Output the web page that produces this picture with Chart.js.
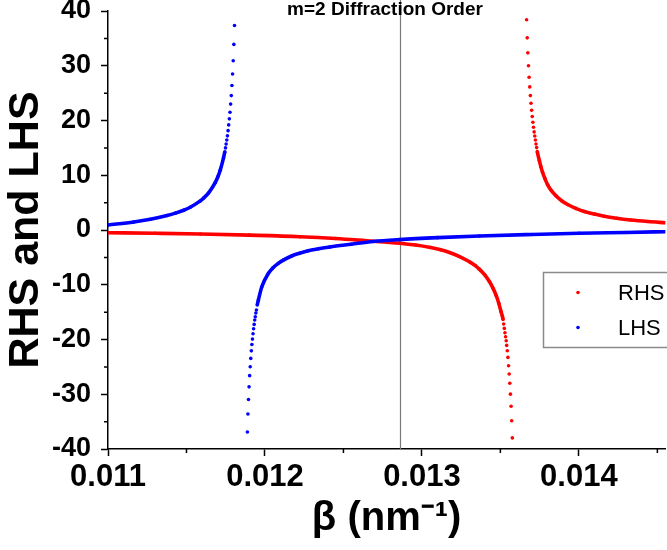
<!DOCTYPE html>
<html>
<head>
<meta charset="utf-8">
<script src="https://cdn.jsdelivr.net/npm/chart.js@4.4.1/dist/chart.umd.min.js"></script>
<style>
    html, body { margin: 0; padding: 0; background: #fff; }
    #wrap { width: 667px; height: 550px; }
</style>
</head>
<body>
<div id="wrap"><canvas id="chart"></canvas></div>
<script>
// right hand side of the m=2 dispersion equation, sampled in beta (nm^-1)
const rhsBeta = [
    0.011000, 0.011300, 0.011588, 0.011900, 0.012223, 0.012450, 0.012647, 0.012858, 0.012960, 0.013055,
    0.013120, 0.013176, 0.013240, 0.013303, 0.013340, 0.013367, 0.013400, 0.013430, 0.013455, 0.013473, 0.013490, 0.013504,
    0.013517, 0.013521, 0.013525, 0.013529, 0.013533, 0.013537, 0.013540, 0.013544,
    0.013548, 0.013552, 0.013556, 0.013560, 0.013564, 0.013568, 0.013572, 0.013576,
    0.013667, 0.013671, 0.013675, 0.013679, 0.013683, 0.013687, 0.013691, 0.013695, 0.013699,
    0.013703, 0.013707, 0.013711, 0.013715, 0.013719, 0.013723, 0.013727, 0.013731, 0.013735,
    0.013748, 0.013758, 0.013769, 0.013785, 0.013801, 0.013825, 0.013854, 0.013890, 0.013928,
    0.013980, 0.014034, 0.014100, 0.014161, 0.014240, 0.014330, 0.014440, 0.014553
];
const rhsValue = [
    -0.49, -0.60, -0.73, -0.94, -1.22, -1.55, -1.96, -2.42, -2.75, -3.20,
    -3.60, -4.10, -4.85, -5.81, -6.50, -7.19, -8.19, -9.41, -10.75, -11.96, -13.41, -14.91,
    -16.33, -17.18, -17.97, -18.77, -19.50, -20.24, -21.08, -22.06,
    -23.27, -24.80, -26.30, -28.00, -29.98, -32.20, -34.85, -37.97,
    38.39, 35.10, 32.36, 30.00, 27.90, 26.14, 24.55, 23.16, 21.88,
    20.72, 19.69, 18.78, 17.92, 17.18, 16.45, 15.72, 15.05, 14.32,
    12.70, 11.55, 10.50, 9.30, 8.25, 7.20, 6.25, 5.35, 4.65,
    3.95, 3.38, 2.90, 2.52, 2.15, 1.83, 1.55, 1.33
];

// left hand side
const lhsBeta = [
    0.011000, 0.011164, 0.011270, 0.011376, 0.011430, 0.011482, 0.011524, 0.011588, 0.011610,
    0.011640, 0.011683, 0.011700, 0.011715, 0.011736,
    0.0117445, 0.0117486, 0.0117527, 0.0117568, 0.0117609, 0.0117650, 0.0117691, 0.0117732,
    0.0117773, 0.0117814, 0.0117855, 0.0117896, 0.0117937, 0.0117978, 0.0118019, 0.0118060,
    0.0118880, 0.0118916, 0.0118952, 0.0118988, 0.0119024, 0.0119060, 0.0119096, 0.0119132, 0.0119168,
    0.0119204, 0.0119240, 0.0119276, 0.0119312, 0.0119348, 0.0119384, 0.0119420, 0.0119456,
    0.011951, 0.011958, 0.011980, 0.012022, 0.012050, 0.012085, 0.012120, 0.012170, 0.012220,
    0.012276, 0.012340, 0.012414, 0.012550, 0.012689, 0.012858, 0.013100, 0.013367, 0.013700,
    0.014002, 0.014300, 0.014555
];
const lhsValue = [
    0.91, 1.47, 1.96, 2.64, 3.08, 3.60, 4.16, 5.31, 5.85,
    6.75, 8.65, 9.73, 10.92, 13.18,
    14.30, 15.00, 15.70, 16.45, 17.20, 18.15, 19.20, 20.30,
    21.50, 23.00, 24.55, 26.40, 28.50, 30.90, 33.90, 37.35,
    -36.90, -33.60, -30.95, -28.65, -26.60, -24.99, -23.45, -22.07, -20.90,
    -19.93, -18.96, -18.04, -17.24, -16.45, -15.85, -15.17, -14.60,
    -13.70, -12.80, -10.36, -7.92, -6.93, -6.09, -5.46, -4.75, -4.25,
    -3.78, -3.44, -3.10, -2.60, -2.10, -1.75, -1.40, -1.10, -0.82,
    -0.60, -0.45, -0.31
];

const betaTicks = [0.011, 0.012, 0.013, 0.014];
const betaMinorTicks = [0.0115, 0.0125, 0.0135, 0.0145];
const valueMinorTicks = [-35, -25, -15, -5, 5, 15, 25, 35];
const markerBeta = 0.012858;
const orderTitle = 'm=2 Diffraction Order';

const FONT = '"Liberation Sans", Arial, Helvetica, sans-serif';

const plot = {
    toPoints: function (xs, ys) {
        return xs.map((x, i) => ({ x: x, y: ys[i] }));
    },
    // steep stretches stay as loose dots, shallow ones are joined into a solid trace
    segmentColor: function (ctx) {
        const dx = Math.abs(ctx.p1.x - ctx.p0.x);
        const dy = Math.abs(ctx.p1.y - ctx.p0.y);
        return dy > 5 * dx ? 'rgba(0,0,0,0)' : undefined;
    },
    series: function (label, xs, ys, color, order) {
        return {
            label: label,
            data: plot.toPoints(xs, ys),
            borderColor: color,
            backgroundColor: color,
            borderWidth: 3.6,
            pointRadius: 1.8,
            pointBorderWidth: 0,
            pointHoverRadius: 1.8,
            showLine: true,
            cubicInterpolationMode: 'monotone',
            order: order,
            segment: { borderColor: plot.segmentColor }
        };
    }
};

const extras = {
    id: 'extras',
    beforeDatasetsDraw: function (chart) {
        const { ctx, chartArea, scales } = chart;
        const x = Math.round(scales.x.getPixelForValue(markerBeta)) + 0.5;
        ctx.save();
        ctx.strokeStyle = '#7a7a7a';
        ctx.lineWidth = 1.2;
        ctx.beginPath();
        ctx.moveTo(x, 0);
        ctx.lineTo(x, chartArea.bottom);
        ctx.stroke();
        ctx.restore();
    },
    afterDraw: function (chart) {
        const { ctx, chartArea, scales } = chart;
        ctx.save();

        // minor ticks, Chart.js only draws one tick length per axis
        ctx.strokeStyle = '#000';
        ctx.lineWidth = 1.5;
        ctx.beginPath();
        valueMinorTicks.forEach(v => {
            const y = scales.y.getPixelForValue(v);
            ctx.moveTo(chartArea.left - 4, y);
            ctx.lineTo(chartArea.left, y);
        });
        betaMinorTicks.forEach(v => {
            const x = scales.x.getPixelForValue(v);
            ctx.moveTo(x, chartArea.bottom);
            ctx.lineTo(x, chartArea.bottom + 4);
        });
        ctx.stroke();

        ctx.fillStyle = '#000';
        ctx.font = 'bold 19px ' + FONT;
        ctx.textAlign = 'center';
        ctx.textBaseline = 'middle';
        ctx.fillText(orderTitle, 385, 10);

        // legend box sitting inside the plot
        const box = { x: 543.5, y: 272.5, w: 130, h: 75 };
        ctx.strokeStyle = '#8a8a8a';
        ctx.lineWidth = 1.5;
        ctx.fillStyle = '#fff';
        ctx.fillRect(box.x, box.y, box.w, box.h);
        ctx.strokeRect(box.x, box.y, box.w, box.h);

        ctx.font = '22px ' + FONT;
        ctx.textAlign = 'left';
        chart.data.datasets.forEach((ds, i) => {
            const y = box.y + 20 + i * 35;
            ctx.fillStyle = ds.backgroundColor;
            ctx.beginPath();
            ctx.arc(578, y, 1.8, 0, Math.PI * 2);
            ctx.fill();
            ctx.fillStyle = '#000';
            ctx.fillText(ds.label, 618, y + 1);
        });
        ctx.restore();
    }
};

new Chart(document.getElementById('chart'), {
    type: 'scatter',
    data: {
        datasets: [
            plot.series('RHS', rhsBeta, rhsValue, '#ff0000', 1),
            plot.series('LHS', lhsBeta, lhsValue, '#0000ff', 0)
        ]
    },
    options: {
        responsive: true,
        maintainAspectRatio: false,
        animation: false,
        layout: { padding: { top: 11, right: 0, bottom: 0, left: 0 } },
        plugins: {
            legend: { display: false },
            tooltip: { enabled: false }
        },
        scales: {
            x: {
                type: 'linear',
                min: 0.011,
                max: 0.01455,
                afterBuildTicks: function (scale) {
                    scale.ticks = betaTicks.map(v => ({ value: v }));
                },
                afterFit: function (scale) {
                    scale.height = 101;
                    scale.paddingLeft = 0;
                    scale.paddingRight = 0;
                },
                border: { display: true, color: '#000', width: 1.5 },
                grid: { drawOnChartArea: false, tickLength: 7, tickColor: '#000', tickWidth: 1.5 },
                ticks: {
                    color: '#000',
                    padding: 3,
                    maxRotation: 0,
                    autoSkip: false,
                    font: { family: FONT, size: 31, weight: 'bold' },
                    callback: v => v.toFixed(3)
                },
                title: {
                    display: true,
                    text: 'β (nm⁻¹)',
                    color: '#000',
                    font: { family: FONT, size: 40, weight: 'bold' },
                    padding: { top: 0, bottom: 7 }
                }
            },
            y: {
                type: 'linear',
                min: -40,
                max: 40,
                ticks: {
                    stepSize: 10,
                    color: '#000',
                    padding: 10,
                    font: { family: FONT, size: 27, weight: 'bold' },
                    callback: v => String(v)
                },
                afterFit: function (scale) {
                    scale.width = 108;
                    scale.paddingTop = 0;
                    scale.paddingBottom = 0;
                },
                border: { display: true, color: '#000', width: 1.5 },
                grid: { drawOnChartArea: false, tickLength: 7, tickColor: '#000', tickWidth: 1.5 },
                title: {
                    display: true,
                    text: 'RHS and LHS',
                    color: '#000',
                    font: { family: FONT, size: 43, weight: 'bold' },
                    padding: { top: 0, bottom: 0 }
                }
            }
        }
    },
    plugins: [extras]
});
</script>
</body>
</html>
